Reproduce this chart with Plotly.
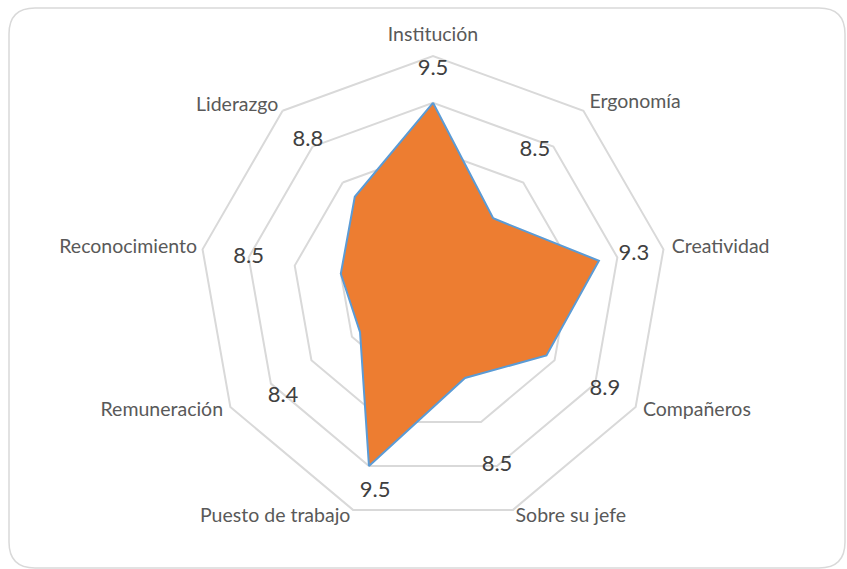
import plotly.graph_objects as go

categories = ["Institución", "Ergonomía", "Creatividad", "Compañeros", "Sobre su jefe",
              "Puesto de trabajo", "Remuneración", "Reconocimiento", "Liderazgo"]
values = [9.5, 8.5, 9.3, 8.9, 8.5, 9.5, 8.4, 8.5, 8.8]
value_labels = ["9.5", "8.5", "9.3", "8.9", "8.5", "9.5", "8.4", "8.5", "8.8"]
ring_values = [8.0, 8.5, 9.0, 9.5, 10.0]

# layout: where the value labels sit (radial units) and how they are offset
label_radius = [9.86, 9.45, 9.68, 9.62, 9.5, 9.79, 9.54, 9.5, 9.58]
label_pos = ["middle center", "middle left", "middle center", "middle center", "middle center",
             "middle right", "bottom right", "middle center", "middle center"]

# layout: where the category names sit (radial units) and how they are anchored
cat_radius = [10.11, 10.10, 10.09, 10.09, 10.08, 10.08, 10.09, 10.06, 10.07]
cat_pos = ["top center", "middle right", "middle right", "middle right", "middle right",
           "middle left", "middle left", "middle left", "middle left"]

W, H = 847, 569
cx, cy, R10 = 433, 290, 234          # centre and pixel radius of the outer (10) ring
r_min, r_ring, r_max = 7.5, 10.0, 10.4
R = R10 * (r_max - r_min) / (r_ring - r_min)

FONT = "Lato"

fig = go.Figure()
fig.add_trace(go.Scatterpolar(
    r=values + values[:1], theta=categories + categories[:1],
    mode="lines", fill="toself", fillcolor="#ED7D31",
    line=dict(color="#5B9BD5", width=2), hoverinfo="skip", showlegend=False,
))
fig.add_trace(go.Scatterpolar(
    r=label_radius, theta=categories, mode="text", text=value_labels,
    textposition=label_pos, textfont=dict(family=FONT, size=22, color="#404040"),
    hoverinfo="skip", showlegend=False, cliponaxis=False,
))
fig.add_trace(go.Scatterpolar(
    r=cat_radius, theta=categories, mode="text", text=categories,
    textposition=cat_pos, textfont=dict(family=FONT, size=19.5, color="#595959"),
    hoverinfo="skip", showlegend=False, cliponaxis=False,
))

dx0, dx1 = (cx - R) / W, (cx + R) / W
dy0, dy1 = (H - cy - R) / H, (H - cy + R) / H

fig.update_layout(
    width=W, height=H, margin=dict(l=0, r=0, t=0, b=0),
    paper_bgcolor="white", plot_bgcolor="white",
    polar=dict(
        domain=dict(x=[dx0, dx1], y=[dy0, dy1]),
        bgcolor="rgba(0,0,0,0)",
        gridshape="linear",
        radialaxis=dict(range=[r_min, r_max], tickvals=ring_values, showticklabels=False,
                        ticks="", showline=False, gridcolor="#D9D9D9", gridwidth=1.5),
        angularaxis=dict(direction="clockwise", rotation=90, showgrid=False,
                         showline=False, ticks="", showticklabels=False),
    ),
)

# rounded chart border
x0, x1 = 9 / W, 845 / W
y0, y1 = 1 - 568 / H, 1 - 8 / H
rx, ry = 26 / W, 26 / H
path = (f"M {x0+rx},{y1} L {x1-rx},{y1} Q {x1},{y1} {x1},{y1-ry} L {x1},{y0+ry} "
        f"Q {x1},{y0} {x1-rx},{y0} L {x0+rx},{y0} Q {x0},{y0} {x0},{y0+ry} "
        f"L {x0},{y1-ry} Q {x0},{y1} {x0+rx},{y1} Z")
fig.add_shape(type="path", path=path, xref="paper", yref="paper",
              line=dict(color="#D9D9D9", width=1.5))

fig.write_html("out.html", config={"displayModeBar": False},
               post_script="document.body.style.margin='0';")
